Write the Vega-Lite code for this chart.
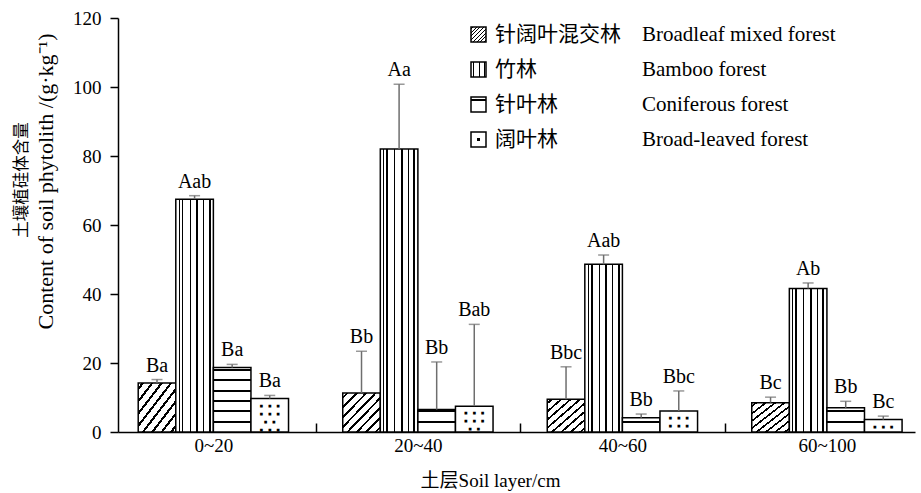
{
  "$schema": "https://vega.github.io/schema/vega-lite/v6.json",
  "width": 797,
  "height": 414,
  "autosize": {"type": "none"},
  "padding": {"left": 118, "top": 18, "right": 6, "bottom": 61},
  "background": "white",
  "config": {
    "view": {"stroke": null},
    "font": "Liberation Serif"
  },
  "title": {
    "text": "土壤植硅体含量",
    "orient": "left",
    "anchor": "middle",
    "font": "Noto Sans CJK SC",
    "fontSize": 16.5,
    "fontWeight": "normal",
    "color": "black",
    "offset": 4,
    "dx": 45
  },
  "params": [
    {"name": "gMix", "value": {"gradient": "linear", "x1": 0, "y1": 0, "x2": 1, "y2": 1, "stops": [
      {"offset": 0, "color": "white"},
      {"offset": 0.045, "color": "white"}, {"offset": 0.045, "color": "black"}, {"offset": 0.08, "color": "black"}, {"offset": 0.08, "color": "white"},
      {"offset": 0.17, "color": "white"}, {"offset": 0.17, "color": "black"}, {"offset": 0.205, "color": "black"}, {"offset": 0.205, "color": "white"},
      {"offset": 0.295, "color": "white"}, {"offset": 0.295, "color": "black"}, {"offset": 0.33, "color": "black"}, {"offset": 0.33, "color": "white"},
      {"offset": 0.42, "color": "white"}, {"offset": 0.42, "color": "black"}, {"offset": 0.455, "color": "black"}, {"offset": 0.455, "color": "white"},
      {"offset": 0.545, "color": "white"}, {"offset": 0.545, "color": "black"}, {"offset": 0.58, "color": "black"}, {"offset": 0.58, "color": "white"},
      {"offset": 0.67, "color": "white"}, {"offset": 0.67, "color": "black"}, {"offset": 0.705, "color": "black"}, {"offset": 0.705, "color": "white"},
      {"offset": 0.795, "color": "white"}, {"offset": 0.795, "color": "black"}, {"offset": 0.83, "color": "black"}, {"offset": 0.83, "color": "white"},
      {"offset": 0.92, "color": "white"}, {"offset": 0.92, "color": "black"}, {"offset": 0.955, "color": "black"}, {"offset": 0.955, "color": "white"},
      {"offset": 1, "color": "white"}
    ]}},
    {"name": "gBam", "value": {"gradient": "linear", "x1": 0, "y1": 0, "x2": 1, "y2": 0, "stops": [
      {"offset": 0, "color": "white"},
      {"offset": 0.075, "color": "white"}, {"offset": 0.075, "color": "black"}, {"offset": 0.1, "color": "black"}, {"offset": 0.1, "color": "white"},
      {"offset": 0.155, "color": "white"}, {"offset": 0.155, "color": "black"}, {"offset": 0.205, "color": "black"}, {"offset": 0.205, "color": "white"},
      {"offset": 0.368, "color": "white"}, {"offset": 0.368, "color": "black"}, {"offset": 0.394, "color": "black"}, {"offset": 0.394, "color": "white"},
      {"offset": 0.543, "color": "white"}, {"offset": 0.543, "color": "black"}, {"offset": 0.595, "color": "black"}, {"offset": 0.595, "color": "white"},
      {"offset": 0.726, "color": "white"}, {"offset": 0.726, "color": "black"}, {"offset": 0.752, "color": "black"}, {"offset": 0.752, "color": "white"},
      {"offset": 0.873, "color": "white"}, {"offset": 0.873, "color": "black"}, {"offset": 0.925, "color": "black"}, {"offset": 0.925, "color": "white"},
      {"offset": 1, "color": "white"}
    ]}},
    {"name": "gCon", "value": {"gradient": "linear", "x1": 0, "y1": 0, "x2": 0, "y2": 1, "stops": [
      {"offset": 0, "color": "white"},
      {"offset": 0.12, "color": "white"}, {"offset": 0.12, "color": "black"}, {"offset": 0.28, "color": "black"}, {"offset": 0.28, "color": "white"},
      {"offset": 1, "color": "white"}
    ]}},
    {"name": "gDot", "value": {"gradient": "radial", "x1": 0.5, "y1": 0.5, "r1": 0, "x2": 0.5, "y2": 0.5, "r2": 0.5, "stops": [
      {"offset": 0, "color": "black"}, {"offset": 0.22, "color": "black"}, {"offset": 0.22, "color": "white"}, {"offset": 1, "color": "white"}
    ]}}
  ],
  "data": {
    "values": [
      {"layer": "0~20", "forest": "针阔叶混交林", "forest_en": "Broadleaf mixed forest", "value": 14.2, "upper": 15.2, "sig": "Ba"},
      {"layer": "0~20", "forest": "竹林", "forest_en": "Bamboo forest", "value": 67.5, "upper": 68.5, "sig": "Aab"},
      {"layer": "0~20", "forest": "针叶林", "forest_en": "Coniferous forest", "value": 18.7, "upper": 19.6, "sig": "Ba"},
      {"layer": "0~20", "forest": "阔叶林", "forest_en": "Broad-leaved forest", "value": 9.7, "upper": 10.6, "sig": "Ba"},
      {"layer": "20~40", "forest": "针阔叶混交林", "forest_en": "Broadleaf mixed forest", "value": 11.3, "upper": 23.4, "sig": "Bb"},
      {"layer": "20~40", "forest": "竹林", "forest_en": "Bamboo forest", "value": 82.0, "upper": 100.8, "sig": "Aa"},
      {"layer": "20~40", "forest": "针叶林", "forest_en": "Coniferous forest", "value": 6.5, "upper": 20.3, "sig": "Bb"},
      {"layer": "20~40", "forest": "阔叶林", "forest_en": "Broad-leaved forest", "value": 7.5, "upper": 31.2, "sig": "Bab"},
      {"layer": "40~60", "forest": "针阔叶混交林", "forest_en": "Broadleaf mixed forest", "value": 9.5, "upper": 18.9, "sig": "Bbc"},
      {"layer": "40~60", "forest": "竹林", "forest_en": "Bamboo forest", "value": 48.6, "upper": 51.3, "sig": "Aab"},
      {"layer": "40~60", "forest": "针叶林", "forest_en": "Coniferous forest", "value": 4.1, "upper": 5.2, "sig": "Bb"},
      {"layer": "40~60", "forest": "阔叶林", "forest_en": "Broad-leaved forest", "value": 6.1, "upper": 11.9, "sig": "Bbc"},
      {"layer": "60~100", "forest": "针阔叶混交林", "forest_en": "Broadleaf mixed forest", "value": 8.5, "upper": 10.1, "sig": "Bc"},
      {"layer": "60~100", "forest": "竹林", "forest_en": "Bamboo forest", "value": 41.6, "upper": 43.2, "sig": "Ab"},
      {"layer": "60~100", "forest": "针叶林", "forest_en": "Coniferous forest", "value": 7.0, "upper": 8.9, "sig": "Bb"},
      {"layer": "60~100", "forest": "阔叶林", "forest_en": "Broad-leaved forest", "value": 3.6, "upper": 4.6, "sig": "Bc"}
    ]
  },
  "encoding": {
    "x": {
      "field": "layer",
      "type": "nominal",
      "scale": {"domain": ["0~20", "20~40", "40~60", "60~100"], "paddingInner": 0.265, "paddingOuter": 0.081, "align": 0.61},
      "axis": {
        "title": "土层Soil layer/cm",
        "titleFont": "Liberation Serif, Noto Sans CJK SC",
        "titleFontSize": 19,
        "titleFontWeight": "normal",
        "titleColor": "black",
        "titleX": 372,
        "titleY": 48,
        "titleBaseline": "middle",
        "labelAngle": 0,
        "labelFont": "Liberation Serif",
        "labelFontSize": 19,
        "labelColor": "black",
        "labelPadding": 13,
        "domainColor": "black",
        "domainWidth": 1.5,
        "tickColor": "black",
        "tickWidth": 1.5,
        "tickSize": -9,
        "bandPosition": 1,
        "tickOffset": 27.1,
        "labelOffset": -27.1
      }
    },
    "xOffset": {
      "field": "forest",
      "type": "nominal",
      "scale": {"domain": ["针阔叶混交林", "竹林", "针叶林", "阔叶林"]}
    }
  },
  "layer": [
    {
      "mark": {"type": "bar", "stroke": "black", "strokeWidth": 1.5},
      "encoding": {
        "y": {
          "field": "value",
          "type": "quantitative",
          "scale": {"domain": [0, 120], "nice": false},
          "axis": {
            "values": [0, 20, 40, 60, 80, 100, 120],
            "grid": false,
            "title": "Content of soil phytolith /(g·kg⁻¹)",
            "titleFont": "Liberation Serif",
            "titleFontSize": 22,
            "titleFontWeight": "normal",
            "titleColor": "black",
            "titleX": -73,
            "titleY": 163,
            "titleAlign": "center",
            "titleBaseline": "middle",
            "labelFont": "Liberation Serif",
            "labelFontSize": 19,
            "labelColor": "black",
            "labelPadding": 9,
            "domainColor": "black",
            "domainWidth": 1.5,
            "tickColor": "black",
            "tickWidth": 1.5,
            "tickSize": 8
          }
        },
        "fill": {
          "condition": [
            {"test": "datum.forest === '阔叶林'", "value": "white"},
            {"test": "datum.forest === '针叶林' && datum.layer === '0~20'", "value": {"gradient": "linear", "x1": 0, "y1": 0, "x2": 0, "y2": 1, "stops": [
              {"offset": 0, "color": "white"},
              {"offset": 0.025, "color": "white"}, {"offset": 0.025, "color": "black"}, {"offset": 0.056, "color": "black"}, {"offset": 0.056, "color": "white"},
              {"offset": 0.185, "color": "white"}, {"offset": 0.185, "color": "black"}, {"offset": 0.216, "color": "black"}, {"offset": 0.216, "color": "white"},
              {"offset": 0.345, "color": "white"}, {"offset": 0.345, "color": "black"}, {"offset": 0.376, "color": "black"}, {"offset": 0.376, "color": "white"},
              {"offset": 0.505, "color": "white"}, {"offset": 0.505, "color": "black"}, {"offset": 0.536, "color": "black"}, {"offset": 0.536, "color": "white"},
              {"offset": 0.665, "color": "white"}, {"offset": 0.665, "color": "black"}, {"offset": 0.696, "color": "black"}, {"offset": 0.696, "color": "white"},
              {"offset": 0.825, "color": "white"}, {"offset": 0.825, "color": "black"}, {"offset": 0.856, "color": "black"}, {"offset": 0.856, "color": "white"},
              {"offset": 1, "color": "white"}
            ]}},
            {"test": "datum.forest === '针叶林' && datum.layer === '20~40'", "value": {"gradient": "linear", "x1": 0, "y1": 0, "x2": 0, "y2": 1, "stops": [
              {"offset": 0, "color": "white"},
              {"offset": 0.035, "color": "white"}, {"offset": 0.035, "color": "black"}, {"offset": 0.125, "color": "black"}, {"offset": 0.125, "color": "white"},
              {"offset": 0.495, "color": "white"}, {"offset": 0.495, "color": "black"}, {"offset": 0.585, "color": "black"}, {"offset": 0.585, "color": "white"},
              {"offset": 1, "color": "white"}
            ]}},
            {"test": "datum.forest === '针叶林' && datum.layer === '40~60'", "value": {"gradient": "linear", "x1": 0, "y1": 0, "x2": 0, "y2": 1, "stops": [
              {"offset": 0, "color": "white"},
              {"offset": 0.2, "color": "white"}, {"offset": 0.2, "color": "black"}, {"offset": 0.34, "color": "black"}, {"offset": 0.34, "color": "white"},
              {"offset": 1, "color": "white"}
            ]}},
            {"test": "datum.forest === '针叶林' && datum.layer === '60~100'", "value": {"gradient": "linear", "x1": 0, "y1": 0, "x2": 0, "y2": 1, "stops": [
              {"offset": 0, "color": "white"},
              {"offset": 0.1, "color": "white"}, {"offset": 0.1, "color": "black"}, {"offset": 0.19, "color": "black"}, {"offset": 0.19, "color": "white"},
              {"offset": 0.53, "color": "white"}, {"offset": 0.53, "color": "black"}, {"offset": 0.61, "color": "black"}, {"offset": 0.61, "color": "white"},
              {"offset": 1, "color": "white"}
            ]}}
          ],
          "field": "forest",
          "type": "nominal",
          "scale": {
            "domain": ["针阔叶混交林", "竹林", "针叶林", "阔叶林"],
            "range": [{"expr": "gMix"}, {"expr": "gBam"}, {"expr": "gCon"}, {"expr": "gDot"}]
          },
          "legend": {
            "title": null,
            "orient": "none",
            "legendX": 350,
            "legendY": 6,
            "direction": "vertical",
            "symbolType": "square",
            "symbolSize": 225,
            "symbolStrokeColor": "black",
            "symbolStrokeWidth": 1.5,
            "symbolOpacity": 1,
            "labelFont": "Noto Sans CJK SC",
            "labelFontSize": 21,
            "labelColor": "black",
            "labelOffset": 6,
            "labelLimit": 0,
            "rowPadding": 13
          }
        },
        "strokeDash": {
          "field": "forest_en",
          "type": "nominal",
          "scale": {
            "domain": ["Broadleaf mixed forest", "Bamboo forest", "Coniferous forest", "Broad-leaved forest"],
            "range": [[1, 0], [1, 0], [1, 0], [1, 0]]
          },
          "legend": {
            "title": null,
            "orient": "none",
            "legendX": 497,
            "legendY": 6,
            "direction": "vertical",
            "symbolType": "square",
            "symbolSize": 225,
            "symbolOpacity": 0,
            "symbolStrokeWidth": 0,
            "labelFont": "Liberation Serif",
            "labelFontSize": 21,
            "labelColor": "black",
            "labelOffset": 6,
            "labelLimit": 0,
            "rowPadding": 13
          }
        }
      }
    },
    {
      "transform": [{"filter": "datum.forest === '阔叶林'"}],
      "mark": {
        "type": "text",
        "clip": true,
        "font": "DejaVu Sans Mono",
        "fontSize": 7,
        "lineHeight": 8,
        "align": "center",
        "baseline": "top",
        "dy": 3,
        "color": "black"
      },
      "encoding": {
        "y": {"field": "value", "type": "quantitative"},
        "text": {"value": [" ▪  ▪  ▪", "▪  ▪  ▪ ", "  ▪   ▪ ", " ▪  ▪  ▪", "▪   ▪ ▪ "]}
      }
    },
    {
      "mark": {"type": "rule", "color": "#6e6e6e", "strokeWidth": 1.5},
      "encoding": {
        "y": {"field": "value", "type": "quantitative"},
        "y2": {"field": "upper"}
      }
    },
    {
      "mark": {"type": "tick", "color": "#6e6e6e", "thickness": 1.5, "size": 11, "orient": "horizontal"},
      "encoding": {
        "y": {"field": "upper", "type": "quantitative"}
      }
    },
    {
      "mark": {"type": "text", "font": "Liberation Serif", "fontSize": 20, "align": "center", "baseline": "alphabetic", "dy": -8, "color": "black"},
      "encoding": {
        "y": {"field": "upper", "type": "quantitative"},
        "text": {"field": "sig"}
      }
    }
  ]
}
